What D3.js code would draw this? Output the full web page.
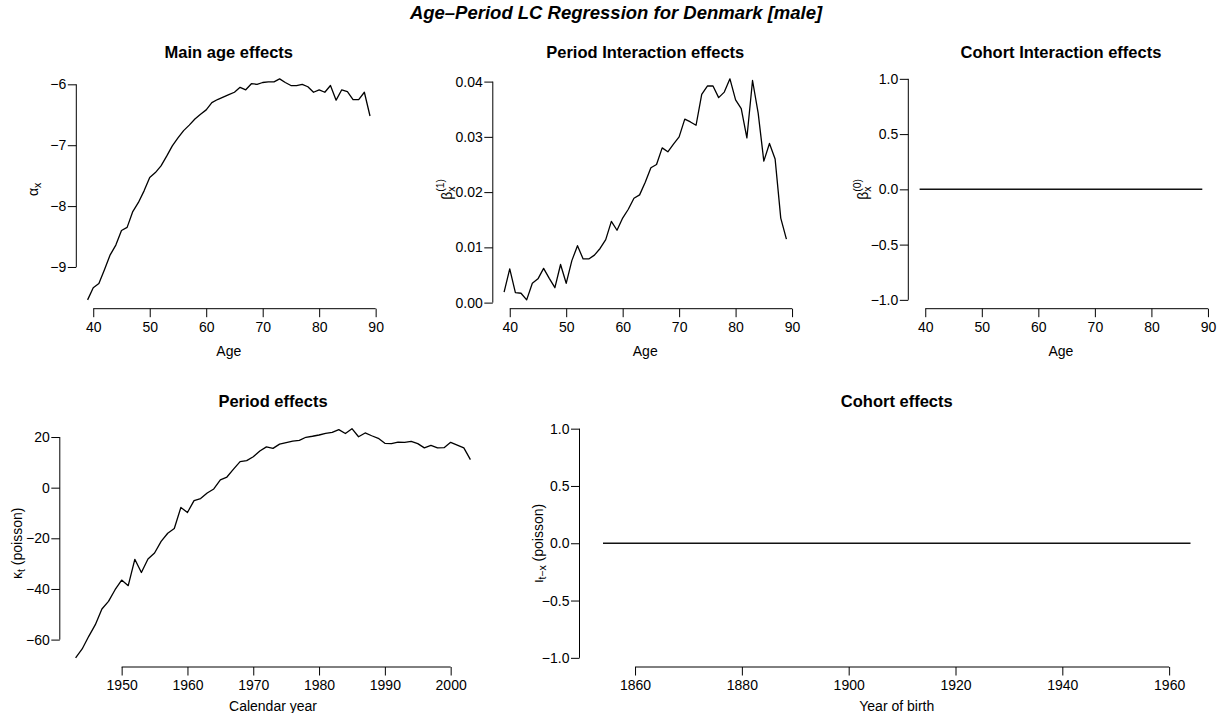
<!DOCTYPE html>
<html>
<head>
<meta charset="utf-8">
<script src="https://cdn.jsdelivr.net/npm/d3@7"></script>
<style>
  html, body { margin: 0; padding: 0; background: #fff; }
  svg text { font-family: "Liberation Sans", Arial, Helvetica, sans-serif; fill: #000; }
</style>
</head>
<body>
<svg id="chart" width="1223" height="713"></svg>
<script>
// ---------------- DATA ----------------
const ages = [39,40,41,42,43,44,45,46,47,48,49,50,51,52,53,54,55,56,57,58,59,60,61,62,63,64,65,66,67,68,69,70,71,72,73,74,75,76,77,78,79,80,81,82,83,84,85,86,87,88,89];
const alphaX = [-9.54,-9.34,-9.27,-9.04,-8.80,-8.64,-8.40,-8.35,-8.09,-7.94,-7.75,-7.53,-7.45,-7.34,-7.18,-7.01,-6.88,-6.76,-6.67,-6.57,-6.49,-6.42,-6.30,-6.25,-6.21,-6.17,-6.13,-6.05,-6.09,-5.99,-6.00,-5.97,-5.96,-5.96,-5.91,-5.97,-6.02,-6.02,-6.00,-6.04,-6.13,-6.09,-6.13,-6.02,-6.26,-6.09,-6.12,-6.25,-6.25,-6.13,-6.52];
const beta1 = [0.0019,0.0061,0.0018,0.0017,0.0005,0.0035,0.0043,0.0062,0.0044,0.0027,0.0069,0.0035,0.0076,0.0103,0.0079,0.0079,0.0086,0.0098,0.0114,0.0147,0.0131,0.0153,0.0169,0.0189,0.0195,0.0218,0.0244,0.0250,0.0280,0.0273,0.0287,0.0300,0.0332,0.0327,0.0321,0.0377,0.0392,0.0392,0.0371,0.0381,0.0405,0.0367,0.0351,0.0298,0.0402,0.0343,0.0256,0.0288,0.0260,0.0153,0.0115];
const beta0 = [0,0,0,0,0,0,0,0,0,0,0,0,0,0,0,0,0,0,0,0,0,0,0,0,0,0,0,0,0,0,0,0,0,0,0,0,0,0,0,0,0,0,0,0,0,0,0,0,0,0,0];
const years = [1943,1944,1945,1946,1947,1948,1949,1950,1951,1952,1953,1954,1955,1956,1957,1958,1959,1960,1961,1962,1963,1964,1965,1966,1967,1968,1969,1970,1971,1972,1973,1974,1975,1976,1977,1978,1979,1980,1981,1982,1983,1984,1985,1986,1987,1988,1989,1990,1991,1992,1993,1994,1995,1996,1997,1998,1999,2000,2001,2002,2003];
const kappa = [-67.2,-63.7,-58.7,-54.1,-47.9,-44.9,-40.3,-36.5,-38.7,-28.3,-33.5,-28.2,-25.8,-21.2,-18.0,-16.1,-7.8,-9.8,-5.1,-4.3,-2.1,-0.5,3.1,4.2,7.3,10.3,10.7,12.2,14.5,16.1,15.5,17.2,17.8,18.4,18.7,19.9,20.3,20.8,21.4,21.8,22.9,21.4,23.3,20.1,21.6,20.5,19.5,17.5,17.4,18.0,17.9,18.3,17.4,15.7,16.7,15.7,15.8,17.9,16.8,15.7,11.1];
const cohorts = [1854,1855,1856,1857,1858,1859,1860,1861,1862,1863,1864,1865,1866,1867,1868,1869,1870,1871,1872,1873,1874,1875,1876,1877,1878,1879,1880,1881,1882,1883,1884,1885,1886,1887,1888,1889,1890,1891,1892,1893,1894,1895,1896,1897,1898,1899,1900,1901,1902,1903,1904,1905,1906,1907,1908,1909,1910,1911,1912,1913,1914,1915,1916,1917,1918,1919,1920,1921,1922,1923,1924,1925,1926,1927,1928,1929,1930,1931,1932,1933,1934,1935,1936,1937,1938,1939,1940,1941,1942,1943,1944,1945,1946,1947,1948,1949,1950,1951,1952,1953,1954,1955,1956,1957,1958,1959,1960,1961,1962,1963,1964];
const iota = [0,0,0,0,0,0,0,0,0,0,0,0,0,0,0,0,0,0,0,0,0,0,0,0,0,0,0,0,0,0,0,0,0,0,0,0,0,0,0,0,0,0,0,0,0,0,0,0,0,0,0,0,0,0,0,0,0,0,0,0,0,0,0,0,0,0,0,0,0,0,0,0,0,0,0,0,0,0,0,0,0,0,0,0,0,0,0,0,0,0,0,0,0,0,0,0,0,0,0,0,0,0,0,0,0,0,0,0,0,0,0];

const ageTicks = [40,50,60,70,80,90];
const alphaTicks = [-9,-8,-7,-6];
const beta1Ticks = [0,0.01,0.02,0.03,0.04];
const unitTicks = [-1,-0.5,0,0.5,1];
const yearTicks = [1950,1960,1970,1980,1990,2000];
const kappaTicks = [-60,-40,-20,0,20];
const cohortTicks = [1860,1880,1900,1920,1940,1960];

const mainTitle = "Age\u2013Period LC Regression for Denmark [male]";

// ---------------- LAYOUT ----------------
const svg = d3.select("#chart");
const FS = 14;
const TICK = 8.5;

svg.append("text")
  .attr("x", 616).attr("y", 19)
  .attr("text-anchor", "middle")
  .style("font-size", "18.5px").style("font-weight", "bold").style("font-style", "italic")
  .text(mainTitle);

function padDomain(vals) {
  const [mn, mx] = d3.extent(vals);
  if (mn === mx) return [mn - 1.08, mx + 1.08];
  const p = (mx - mn) * 0.04;
  return [mn - p, mx + p];
}

function panel(o) {
  const x = d3.scaleLinear().domain(padDomain(o.xs)).range([o.l, o.r]);
  const y = d3.scaleLinear().domain(padDomain(o.ys)).range([o.b, o.t]);
  const g = svg.append("g");

  // title
  g.append("text")
    .attr("x", (o.l + o.r) / 2).attr("y", o.t - 12.5)
    .attr("text-anchor", "middle")
    .style("font-size", "16.5px").style("font-weight", "bold")
    .text(o.title);

  // y axis
  const ya = g.append("g").attr("transform", `translate(${o.l},0)`)
    .call(d3.axisLeft(y).tickValues(o.yTicks).tickFormat(o.yFmt).tickSize(TICK).tickPadding(1.5));
  ya.select(".domain").remove();
  ya.selectAll("text").style("font-size", FS + "px").style("font-family", "Liberation Sans, Arial, sans-serif");
  ya.selectAll("line").attr("stroke", "#000");
  g.append("line")
    .attr("x1", o.l).attr("x2", o.l)
    .attr("y1", y(o.yTicks[0])).attr("y2", y(o.yTicks[o.yTicks.length - 1]))
    .attr("stroke", "#000");

  // x axis
  const xa = g.append("g").attr("transform", `translate(0,${o.b})`)
    .call(d3.axisBottom(x).tickValues(o.xTicks).tickFormat(d3.format("d")).tickSize(TICK).tickPadding(4.5));
  xa.select(".domain").remove();
  xa.selectAll("text").style("font-size", FS + "px").style("font-family", "Liberation Sans, Arial, sans-serif");
  xa.selectAll("line").attr("stroke", "#000");
  g.append("line")
    .attr("y1", o.b).attr("y2", o.b)
    .attr("x1", x(o.xTicks[0])).attr("x2", x(o.xTicks[o.xTicks.length - 1]))
    .attr("stroke", "#000");

  // x label
  g.append("text")
    .attr("x", (o.l + o.r) / 2).attr("y", o.b + o.xlabOff)
    .attr("text-anchor", "middle")
    .style("font-size", FS + "px")
    .text(o.xlab);

  // y label (rotated, with sub/superscripts)
  const yl = g.append("text")
    .attr("transform", `translate(${o.l - o.ylabOff},${(o.t + o.b) / 2}) rotate(-90)`)
    .attr("text-anchor", "middle")
    .style("font-size", FS + "px");
  o.ylab(yl);

  // data line
  const data = o.xs.map((d, i) => [d, o.ys[i]]);
  g.append("path")
    .datum(data)
    .attr("fill", "none")
    .attr("stroke", o.lineColor || "#000")
    .attr("stroke-width", o.lineWidth || 1.3)
    .attr("stroke-linejoin", "round")
    .attr("d", d3.line().x(d => x(d[0])).y(d => y(d[1])));
}

const fmtInt = d3.format("d");
const fmt2 = d3.format(".2f");
const fmt1 = d3.format(".1f");

function subLabel(base, sub, sup, rest) {
  return function (t) {
    t.append("tspan").text(base);
    t.append("tspan").attr("dy", 3).style("font-size", "10.5px").text(sub);
    if (sup) {
      t.append("tspan").attr("dx", -(sub.length * 5.4)).attr("dy", -10.5).style("font-size", "10.5px").text(sup);
      t.append("tspan").attr("dy", 7.5).text("");
    } else {
      t.append("tspan").attr("dy", -3).text(rest || "");
    }
  };
}

panel({
  l: 76.3, r: 381.3, t: 70, b: 308.7,
  xs: ages, ys: alphaX, xTicks: ageTicks, yTicks: alphaTicks, yFmt: fmtInt,
  title: "Main age effects", xlab: "Age", xlabOff: 47, ylabOff: 38.5,
  ylab: subLabel("\u03b1", "x")
});
panel({
  l: 492.8, r: 797.7, t: 70, b: 308.7,
  xs: ages, ys: beta1, xTicks: ageTicks, yTicks: beta1Ticks, yFmt: fmt2,
  title: "Period Interaction effects", xlab: "Age", xlabOff: 47, ylabOff: 41,
  ylab: subLabel("\u03b2", "x", "(1)")
});
panel({
  l: 908.3, r: 1213.6, t: 70, b: 308.7,
  xs: ages, ys: beta0, xTicks: ageTicks, yTicks: unitTicks, yFmt: fmt1,
  title: "Cohort Interaction effects", xlab: "Age", xlabOff: 47, ylabOff: 40,
  ylab: subLabel("\u03b2", "x", "(0)"), lineColor: "#111", lineWidth: 1.5
});
panel({
  l: 59.8, r: 486.2, t: 419.5, b: 667,
  xs: years, ys: kappa, xTicks: yearTicks, yTicks: kappaTicks, yFmt: fmtInt,
  title: "Period effects", xlab: "Calendar year", xlabOff: 44, ylabOff: 38,
  ylab: subLabel("\u03ba", "t", null, " (poisson)")
});
panel({
  l: 579.5, r: 1214, t: 419.5, b: 667,
  xs: cohorts, ys: iota, xTicks: cohortTicks, yTicks: unitTicks, yFmt: fmt1,
  title: "Cohort effects", xlab: "Year of birth", xlabOff: 44, ylabOff: 37,
  ylab: subLabel("\u03b9", "t\u2212x", null, " (poisson)"), lineColor: "#111", lineWidth: 1.5
});
</script>
</body>
</html>
